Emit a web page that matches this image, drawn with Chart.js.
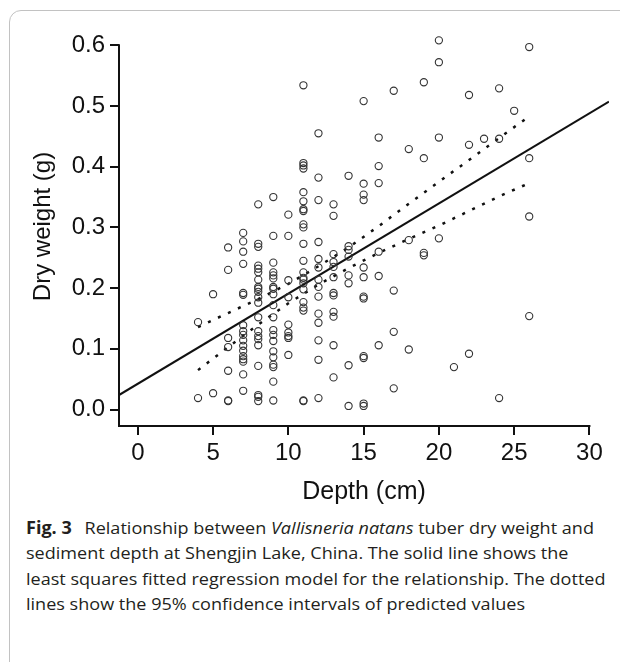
<!DOCTYPE html>
<html>
<head>
<meta charset="utf-8">
<script src="https://cdn.jsdelivr.net/npm/chart.js@4.4.1/dist/chart.umd.min.js"></script>
<style>
  html, body { margin: 0; padding: 0; background: #fff; }
  body { width: 620px; height: 662px; position: relative; overflow: hidden; }
  .card { position: absolute; left: 9px; top: 10px; width: 650px; height: 700px;
          border: 1px solid #c2c2c2; border-radius: 12px; box-sizing: border-box; }
  #plot { position: absolute; left: 0; top: 0; }
  .caption { position: absolute; left: 26px; top: 515px; font-family: "Open Sans", "Noto Sans", sans-serif;
             font-size: 17px; line-height: 25.3px; color: #231f20; white-space: nowrap;
             transform: scaleX(1.062); transform-origin: 0 0; }
  .gap { display: inline-block; width: 12px; }
</style>
</head>
<body>
<div class="card"></div>
<canvas id="plot" width="620" height="510"></canvas>
<div class="caption">
  <b>Fig. 3</b><span class="gap"></span>Relationship between <i>Vallisneria natans</i> tuber dry weight and<br>
  sediment depth at Shengjin Lake, China. The solid line shows the<br>
  least squares fitted regression model for the relationship. The dotted<br>
  lines show the 95% confidence intervals of predicted values
</div>
<script>
// sediment depth (cm) of each column of observations
const depths = [4, 5, 6, 7, 8, 9, 10, 11, 12, 13, 14, 15, 16, 17, 18, 19, 20, 21, 22, 23, 24, 25, 26];
// tuber dry weight (g) observed at each depth
const weights = [
  [0.144, 0.019],
  [0.190, 0.027],
  [0.267, 0.230, 0.118, 0.103, 0.064, 0.015, 0.014],
  [0.291, 0.277, 0.260, 0.240, 0.192, 0.189, 0.139, 0.129, 0.123, 0.114, 0.105, 0.097, 0.088, 0.083, 0.079, 0.058, 0.031],
  [0.338, 0.273, 0.268, 0.237, 0.232, 0.226, 0.214, 0.202, 0.199, 0.194, 0.185, 0.176, 0.152, 0.129, 0.121, 0.116, 0.106, 0.072, 0.024, 0.021, 0.014],
  [0.350, 0.286, 0.242, 0.226, 0.221, 0.216, 0.202, 0.199, 0.190, 0.172, 0.152, 0.131, 0.123, 0.113, 0.096, 0.086, 0.074, 0.070, 0.046, 0.015],
  [0.321, 0.286, 0.213, 0.185, 0.140, 0.127, 0.121, 0.118, 0.090],
  [0.534, 0.406, 0.402, 0.397, 0.358, 0.343, 0.330, 0.327, 0.305, 0.300, 0.273, 0.245, 0.226, 0.217, 0.214, 0.208, 0.198, 0.177, 0.168, 0.163, 0.015, 0.014],
  [0.455, 0.382, 0.345, 0.276, 0.248, 0.234, 0.214, 0.202, 0.186, 0.158, 0.143, 0.114, 0.082, 0.019],
  [0.338, 0.319, 0.256, 0.243, 0.235, 0.218, 0.192, 0.188, 0.161, 0.153, 0.106, 0.053],
  [0.385, 0.269, 0.263, 0.252, 0.221, 0.208, 0.073, 0.006],
  [0.508, 0.372, 0.354, 0.345, 0.234, 0.218, 0.186, 0.183, 0.088, 0.085, 0.010, 0.006],
  [0.448, 0.401, 0.373, 0.260, 0.220, 0.106],
  [0.525, 0.196, 0.128, 0.035],
  [0.429, 0.279, 0.099],
  [0.539, 0.414, 0.258, 0.254],
  [0.608, 0.572, 0.448, 0.282],
  [0.070],
  [0.518, 0.436, 0.092],
  [0.446],
  [0.529, 0.446, 0.019],
  [0.492],
  [0.597, 0.414, 0.318, 0.154]
];

// fitted regression line, read at the two edges of the plot
const fitX = [-1.25, 31.3];
const fitY = [0.024, 0.507];

// 95% confidence band of predicted values
const ciX = [4, 6, 8, 10, 12, 14, 16, 18, 20, 22, 24, 26];
const ciUpper = [0.136, 0.159, 0.182, 0.207, 0.236, 0.267, 0.302, 0.339, 0.375, 0.411, 0.447, 0.483];
const ciLower = [0.065, 0.103, 0.140, 0.175, 0.206, 0.233, 0.258, 0.281, 0.303, 0.327, 0.351, 0.373];

// tick labels
const xTicks = [0, 5, 10, 15, 20, 25, 30];
const yTicks = [0.0, 0.1, 0.2, 0.3, 0.4, 0.5, 0.6];

const ink = '#111';
const tickFont = { family: '"Liberation Sans", Arial, sans-serif', size: 24 };

const points = [];
depths.forEach((d, i) => {
  weights[i].forEach(w => points.push({ x: d, y: w }));
});

const toXY = (xs, ys) => xs.map((x, i) => ({ x: x, y: ys[i] }));

// axis lines only run to the last tick, like the original figure
const axisLines = {
  id: 'axisLines',
  afterDraw(chart) {
    const { ctx, chartArea, scales } = chart;
    const top = scales.y.getPixelForValue(yTicks[yTicks.length - 1]);
    const right = scales.x.getPixelForValue(xTicks[xTicks.length - 1]);
    ctx.save();
    ctx.strokeStyle = ink;
    ctx.lineWidth = 2;
    ctx.beginPath();
    ctx.moveTo(chartArea.left, top - 1);
    ctx.lineTo(chartArea.left, chartArea.bottom);
    ctx.lineTo(right + 1, chartArea.bottom);
    ctx.stroke();
    ctx.restore();
  }
};

new Chart(document.getElementById('plot').getContext('2d'), {
  type: 'scatter',
  data: {
    datasets: [
      {
        data: points,
        pointStyle: 'circle',
        pointRadius: 3.6,
        pointBorderWidth: 1.1,
        pointBorderColor: '#333',
        pointBackgroundColor: 'rgba(0,0,0,0)'
      },
      {
        data: toXY(fitX, fitY),
        showLine: true,
        borderColor: ink,
        borderWidth: 2,
        pointRadius: 0
      },
      {
        data: toXY(ciX, ciUpper),
        showLine: true,
        borderColor: ink,
        borderWidth: 2.5,
        borderDash: [3, 8],
        pointRadius: 0
      },
      {
        data: toXY(ciX, ciLower),
        showLine: true,
        borderColor: ink,
        borderWidth: 2.5,
        borderDash: [3, 8],
        pointRadius: 0
      }
    ]
  },
  options: {
    responsive: false,
    animation: false,
    devicePixelRatio: 1,
    layout: { padding: { left: 0, right: 11, top: 27, bottom: 0 } },
    plugins: { legend: { display: false }, tooltip: { enabled: false } },
    scales: {
      x: {
        type: 'linear',
        min: -1.25,
        max: 31.3,
        afterBuildTicks: s => { s.ticks = xTicks.map(v => ({ value: v })); },
        afterFit: s => { s.height = 84; },
        border: { display: false },
        grid: { drawOnChartArea: false, tickLength: 9, lineWidth: 2, color: ink },
        ticks: { font: tickFont, color: ink, padding: 4, maxRotation: 0, autoSkip: false },
        title: {
          display: true, text: 'Depth (cm)', color: ink,
          font: { family: tickFont.family, size: 25 },
          padding: { top: 0, bottom: 3 }
        }
      },
      y: {
        type: 'linear',
        min: -0.027,
        max: 0.63,
        afterBuildTicks: s => { s.ticks = yTicks.map(v => ({ value: v })); },
        afterFit: s => { s.width = 119; },
        border: { display: false },
        grid: { drawOnChartArea: false, tickLength: 9, lineWidth: 2, color: ink },
        ticks: { font: tickFont, color: ink, padding: 5, callback: v => v.toFixed(1) },
        title: {
          display: true, text: 'Dry weight (g)', color: ink,
          font: { family: tickFont.family, size: 24 },
          padding: { top: 28.6, bottom: 0 }
        }
      }
    }
  },
  plugins: [axisLines]
});
</script>
</body>
</html>
